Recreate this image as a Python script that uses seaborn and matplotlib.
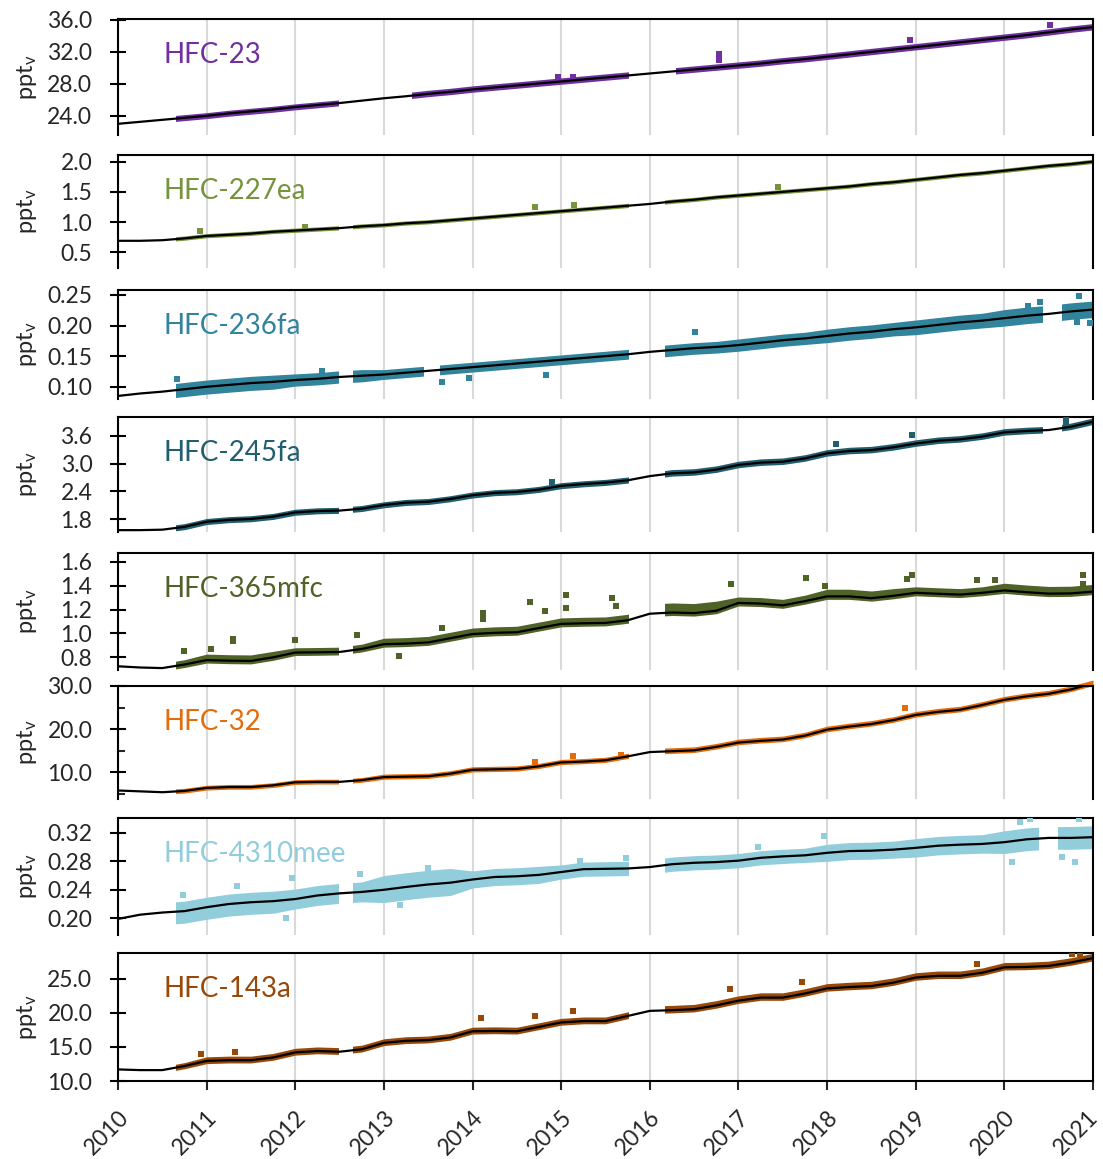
import numpy as np
import matplotlib
matplotlib.use("Agg")
import matplotlib.pyplot as plt
import matplotlib.transforms as mtransforms
import seaborn as sns
from matplotlib.patches import Rectangle

sns.set_style("white")
plt.rcParams['font.family'] = ['Lato', 'DejaVu Sans']
plt.rcParams['mathtext.fontset'] = 'custom'
plt.rcParams['mathtext.rm'] = 'Lato'
plt.rcParams['mathtext.it'] = 'Lato:italic'

# ---------------- data ----------------
years = list(range(2010, 2022))
t_q = np.arange(2010.0, 2021.001, 0.25)      # quarterly time grid of the fitted curves

names = ["HFC-23", "HFC-227ea", "HFC-236fa", "HFC-245fa",
         "HFC-365mfc", "HFC-32", "HFC-4310mee", "HFC-143a"]
colors = ["#7030A0", "#77933C", "#31849B", "#215E6E",
          "#4F6228", "#E46C0A", "#92CDDC", "#984807"]

# fitted (black) curves, quarterly 2010.00 ... 2021.00
hfc23_fit = [23.0, 23.25, 23.5, 23.75, 24.0, 24.3, 24.55, 24.8, 25.1, 25.35, 25.6, 25.9,
             26.2, 26.45, 26.75, 27.0, 27.3, 27.55, 27.8, 28.05, 28.3, 28.55, 28.8, 29.05,
             29.3, 29.55, 29.8, 30.05, 30.3, 30.55, 30.85, 31.1, 31.4, 31.7, 32.0, 32.3,
             32.6, 32.9, 33.2, 33.5, 33.8, 34.1, 34.45, 34.8, 35.1]
hfc227ea_fit = [0.69, 0.69, 0.70, 0.73, 0.77, 0.79, 0.81, 0.84, 0.86, 0.88, 0.90, 0.93,
                0.95, 0.98, 1.00, 1.03, 1.06, 1.09, 1.12, 1.15, 1.18, 1.21, 1.24, 1.27,
                1.30, 1.34, 1.37, 1.41, 1.44, 1.47, 1.50, 1.53, 1.56, 1.59, 1.63, 1.66,
                1.70, 1.74, 1.78, 1.81, 1.85, 1.89, 1.93, 1.96, 2.00]
hfc236fa_fit = [0.085, 0.089, 0.092, 0.096, 0.100, 0.103, 0.106, 0.108, 0.111, 0.113, 0.116, 0.118,
                0.120, 0.123, 0.126, 0.129, 0.132, 0.135, 0.138, 0.141, 0.144, 0.147, 0.150, 0.153,
                0.157, 0.160, 0.163, 0.165, 0.168, 0.172, 0.176, 0.179, 0.183, 0.187, 0.190, 0.194,
                0.197, 0.201, 0.205, 0.208, 0.212, 0.216, 0.219, 0.223, 0.226]
hfc245fa_fit = [1.57, 1.57, 1.58, 1.64, 1.75, 1.79, 1.81, 1.86, 1.95, 1.98, 1.99, 2.03,
                2.11, 2.16, 2.18, 2.24, 2.32, 2.37, 2.39, 2.44, 2.52, 2.56, 2.59, 2.64,
                2.73, 2.79, 2.81, 2.87, 2.97, 3.02, 3.04, 3.11, 3.22, 3.27, 3.29, 3.35,
                3.43, 3.49, 3.52, 3.58, 3.67, 3.70, 3.72, 3.79, 3.90]
hfc365mfc_fit = [0.725, 0.715, 0.710, 0.74, 0.777, 0.772, 0.770, 0.80, 0.84, 0.842, 0.845, 0.87,
                 0.91, 0.915, 0.925, 0.96, 0.995, 1.005, 1.01, 1.045, 1.08, 1.085, 1.088, 1.11,
                 1.165, 1.175, 1.17, 1.19, 1.255, 1.25, 1.235, 1.27, 1.31, 1.31, 1.295, 1.315,
                 1.34, 1.332, 1.325, 1.34, 1.36, 1.345, 1.333, 1.335, 1.35]
hfc32_fit = [5.8, 5.6, 5.4, 5.7, 6.4, 6.6, 6.6, 7.0, 7.7, 7.8, 7.8, 8.2,
             8.9, 9.0, 9.1, 9.7, 10.6, 10.7, 10.8, 11.4, 12.3, 12.5, 12.8, 13.7,
             14.7, 14.9, 15.1, 15.9, 16.9, 17.3, 17.6, 18.5, 19.9, 20.6, 21.2, 22.1,
             23.3, 24.0, 24.5, 25.6, 26.8, 27.6, 28.2, 29.2, 30.6]
hfc4310mee_fit = [0.199, 0.205, 0.208, 0.210, 0.2155, 0.220, 0.2225, 0.2240, 0.227, 0.232, 0.235, 0.237,
                  0.240, 0.2440, 0.2475, 0.250, 0.2545, 0.258, 0.259, 0.261, 0.265, 0.2690, 0.2695, 0.2700,
                  0.272, 0.2760, 0.278, 0.279, 0.281, 0.285, 0.2870, 0.2885, 0.292, 0.2945, 0.2950, 0.2965,
                  0.2990, 0.3020, 0.3035, 0.3045, 0.307, 0.311, 0.313, 0.313, 0.314]
hfc143a_fit = [11.7, 11.6, 11.6, 12.2, 12.95, 13.05, 13.05, 13.45, 14.2, 14.4, 14.3, 14.66,
               15.6, 15.9, 16.0, 16.4, 17.3, 17.35, 17.3, 17.95, 18.6, 18.8, 18.8, 19.55,
               20.3, 20.4, 20.55, 21.1, 21.8, 22.25, 22.25, 22.85, 23.6, 23.8, 23.95, 24.45,
               25.2, 25.45, 25.45, 25.9, 26.7, 26.75, 26.9, 27.4, 28.05]

# spread of the observations below / above the fit, per year 2010..2020
hfc23_dev_lo = [0.35, 0.35, 0.35, 0.35, 0.35, 0.35, 0.35, 0.35, 0.35, 0.35, 0.35]
hfc23_dev_hi = [0.40, 0.40, 0.40, 0.45, 0.45, 0.45, 0.45, 0.45, 0.45, 0.45, 0.45]
hfc227ea_dev_lo = [0.030, 0.030, 0.030, 0.030, 0.030, 0.030, 0.030, 0.030, 0.030, 0.030, 0.030]
hfc227ea_dev_hi = [0.040, 0.040, 0.040, 0.040, 0.040, 0.040, 0.040, 0.040, 0.040, 0.040, 0.040]
hfc236fa_dev_lo = [0.012, 0.012, 0.010, 0.008, 0.008, 0.008, 0.010, 0.010, 0.011, 0.012, 0.013]
hfc236fa_dev_hi = [0.011, 0.011, 0.010, 0.008, 0.008, 0.008, 0.009, 0.010, 0.011, 0.012, 0.014]
hfc245fa_dev_lo = [0.06, 0.06, 0.06, 0.06, 0.06, 0.06, 0.06, 0.06, 0.06, 0.06, 0.06]
hfc245fa_dev_hi = [0.07, 0.07, 0.07, 0.07, 0.07, 0.07, 0.08, 0.08, 0.08, 0.08, 0.08]
hfc365mfc_dev_lo = [0.025, 0.025, 0.025, 0.025, 0.025, 0.025, 0.025, 0.025, 0.025, 0.025, 0.025]
hfc365mfc_dev_hi = [0.04, 0.05, 0.04, 0.05, 0.05, 0.05, 0.08, 0.05, 0.06, 0.05, 0.06]
hfc32_dev_lo = [0.5, 0.5, 0.5, 0.5, 0.5, 0.5, 0.5, 0.5, 0.5, 0.5, 0.5]
hfc32_dev_hi = [0.6, 0.6, 0.6, 0.7, 0.7, 0.7, 0.8, 0.8, 0.8, 0.8, 0.8]
hfc4310mee_dev_lo = [0.017, 0.017, 0.014, 0.018, 0.012, 0.010, 0.010, 0.010, 0.012, 0.013, 0.016]
hfc4310mee_dev_hi = [0.014, 0.014, 0.014, 0.020, 0.012, 0.010, 0.010, 0.010, 0.012, 0.013, 0.016]
hfc143a_dev_lo = [0.4, 0.4, 0.4, 0.4, 0.4, 0.4, 0.4, 0.4, 0.4, 0.4, 0.4]
hfc143a_dev_hi = [0.5, 0.6, 0.6, 0.6, 0.6, 0.6, 0.7, 0.7, 0.7, 0.7, 0.7]

# periods with observations
hfc23_obs = [(2010.65, 2012.48), (2013.32, 2015.75), (2016.30, 2021.0)]
hfc227ea_obs = [(2010.65, 2012.48), (2012.65, 2015.75), (2016.17, 2021.0)]
hfc236fa_obs = [(2010.65, 2012.48), (2012.65, 2013.44), (2013.63, 2015.75),
                (2016.17, 2020.42), (2020.65, 2021.0)]
hfc245fa_obs = [(2010.65, 2012.48), (2012.65, 2015.75), (2016.17, 2020.43), (2020.65, 2021.0)]
hfc365mfc_obs = [(2010.65, 2012.48), (2012.65, 2015.75), (2016.17, 2021.0)]
hfc32_obs = [(2010.65, 2012.48), (2012.65, 2015.75), (2016.17, 2021.0)]
hfc4310mee_obs = [(2010.65, 2012.48), (2012.65, 2015.75), (2016.17, 2020.38), (2020.60, 2021.0)]
hfc143a_obs = [(2010.65, 2012.48), (2012.65, 2015.75), (2016.17, 2021.0)]

# individual off-band observations
hfc23_out_t = [2016.78, 2016.78, 2018.93, 2020.52, 2014.96, 2015.13]
hfc23_out_v = [31.7, 31.0, 33.5, 35.4, 28.9, 28.8]
hfc227ea_out_t = [2014.70, 2015.14, 2017.45, 2010.93, 2012.11]
hfc227ea_out_v = [1.245, 1.28, 1.575, 0.85, 0.925]
hfc236fa_out_t = [2013.65, 2013.96, 2014.83, 2016.51, 2020.84, 2020.40, 2020.27,
                  2020.97, 2020.82, 2010.66, 2012.30]
hfc236fa_out_v = [0.108, 0.1137, 0.119, 0.189, 0.248, 0.239, 0.232,
                  0.2045, 0.206, 0.1126, 0.126]
hfc245fa_out_t = [2018.10, 2018.96, 2020.69, 2020.69, 2020.70, 2014.90]
hfc245fa_out_v = [3.43, 3.61, 3.97, 3.88, 3.80, 2.60]
hfc365mfc_out_t = [2011.05, 2011.30, 2011.30, 2012.00, 2012.70, 2010.75, 2013.66, 2013.17,
                   2014.12, 2014.12, 2014.65, 2014.82, 2015.05, 2015.05, 2015.57, 2015.62,
                   2016.92, 2017.76, 2017.98, 2018.96, 2018.90, 2019.69, 2019.89,
                   2020.89, 2020.89]
hfc365mfc_out_v = [0.87, 0.94, 0.955, 0.945, 0.985, 0.855, 1.045, 0.81,
                   1.175, 1.12, 1.26, 1.19, 1.32, 1.21, 1.30, 1.23,
                   1.41, 1.46, 1.40, 1.49, 1.455, 1.447, 1.447,
                   1.49, 1.41]
hfc32_out_t = [2014.71, 2015.13, 2015.68, 2018.88]
hfc32_out_v = [12.5, 13.7, 14.1, 24.8]
hfc4310mee_out_t = [2010.73, 2011.34, 2011.90, 2011.96, 2012.73, 2013.50, 2013.18,
                    2015.21, 2015.73, 2017.96, 2017.22, 2020.29, 2020.18, 2020.84,
                    2020.80, 2020.65, 2020.09]
hfc4310mee_out_v = [0.233, 0.245, 0.201, 0.256, 0.2625, 0.271, 0.218,
                    0.281, 0.2845, 0.315, 0.300, 0.340, 0.335, 0.339,
                    0.279, 0.286, 0.279]
hfc143a_out_t = [2010.94, 2011.32, 2014.10, 2014.71, 2015.13, 2016.90, 2017.72,
                 2019.69, 2020.76, 2020.85]
hfc143a_out_v = [14.0, 14.3, 19.3, 19.55, 20.3, 23.5, 24.5,
                 27.2, 28.7, 28.6]

fits = [hfc23_fit, hfc227ea_fit, hfc236fa_fit, hfc245fa_fit,
        hfc365mfc_fit, hfc32_fit, hfc4310mee_fit, hfc143a_fit]
devs_lo = [hfc23_dev_lo, hfc227ea_dev_lo, hfc236fa_dev_lo, hfc245fa_dev_lo,
           hfc365mfc_dev_lo, hfc32_dev_lo, hfc4310mee_dev_lo, hfc143a_dev_lo]
devs_hi = [hfc23_dev_hi, hfc227ea_dev_hi, hfc236fa_dev_hi, hfc245fa_dev_hi,
           hfc365mfc_dev_hi, hfc32_dev_hi, hfc4310mee_dev_hi, hfc143a_dev_hi]
obs = [hfc23_obs, hfc227ea_obs, hfc236fa_obs, hfc245fa_obs,
       hfc365mfc_obs, hfc32_obs, hfc4310mee_obs, hfc143a_obs]
outs = [(hfc23_out_t, hfc23_out_v), (hfc227ea_out_t, hfc227ea_out_v),
        (hfc236fa_out_t, hfc236fa_out_v), (hfc245fa_out_t, hfc245fa_out_v),
        (hfc365mfc_out_t, hfc365mfc_out_v), (hfc32_out_t, hfc32_out_v),
        (hfc4310mee_out_t, hfc4310mee_out_v), (hfc143a_out_t, hfc143a_out_v)]

yticks = [[24, 28, 32, 36], [0.5, 1.0, 1.5, 2.0], [0.10, 0.15, 0.20, 0.25],
          [1.8, 2.4, 3.0, 3.6], [0.8, 1.0, 1.2, 1.4, 1.6], [10, 20, 30],
          [0.20, 0.24, 0.28, 0.32], [10, 15, 20, 25]]
yfmt = ['%.1f', '%.1f', '%.2f', '%.1f', '%.1f', '%.1f', '%.2f', '%.1f']

# ---------------- layout ----------------
W, H = 1103, 1159
panel_px = [(19, 135), (155, 268), (290, 399), (417, 532),
            (553, 670), (686, 799), (818, 935), (953, 1081)]
ylims = [(21.6, 36.12), (0.24, 2.11), (0.080, 0.258), (1.53, 4.0),
         (0.694, 1.673), (3.83, 30.0), (0.1764, 0.341), (10.0, 28.8)]
x0, x1 = 118, 1093
TICK_FS = 16.5
TXT = '#262626'

fig = plt.figure(figsize=(W / 100, H / 100), dpi=100)

for i in range(8):
    top, bot = panel_px[i]
    ax = fig.add_axes([x0 / W, 1 - bot / H, (x1 - x0) / W, (bot - top) / H])
    ax.set_facecolor('white')
    ylo, yhi = ylims[i]
    fit = np.array(fits[i])
    dlo = np.append(np.repeat(devs_lo[i], 4), devs_lo[i][-1])
    dhi = np.append(np.repeat(devs_hi[i], 4), devs_hi[i][-1])
    band_lo = fit - dlo
    band_hi = fit + dhi
    for s, e in obs[i]:
        poly = ax.fill_between(t_q, band_lo, band_hi, color=colors[i], lw=0, zorder=2)
        poly.set_clip_path(Rectangle((s, ylo - 10), e - s, (yhi - ylo) + 20,
                                     transform=ax.transData))
    ot, ov = outs[i]
    sns.scatterplot(x=ot, y=ov, ax=ax, marker='s', s=16, color=colors[i],
                    linewidth=0, zorder=3, legend=False)
    sns.lineplot(x=t_q, y=fit, ax=ax, color='black', lw=1.6, zorder=4, legend=False)

    ax.set_xlim(2010, 2021)
    ax.set_ylim(ylo, yhi)
    ax.set_xticks(years)
    ax.grid(axis='x', color='#d9d9d9', lw=1.5, zorder=0)
    ax.grid(axis='y', visible=False)
    ax.set_axisbelow(True)
    for side in ['left', 'top', 'right', 'bottom']:
        ax.spines[side].set_color('black')
        ax.spines[side].set_linewidth(1.5)
    ax.set_yticks(yticks[i])
    ax.set_yticklabels([yfmt[i] % v for v in yticks[i]], fontsize=TICK_FS, color=TXT)
    ax.tick_params(axis='y', which='major', direction='inout', length=11, width=1.5,
                   labelsize=TICK_FS, pad=13, colors='black', labelcolor=TXT, left=True)
    if i == 5:
        ax.set_yticks([5, 15, 25], minor=True)
        ax.tick_params(axis='y', which='minor', direction='in', length=5, width=1.5, left=True)
    ax.set_xlabel('')
    ax.set_ylabel('')
    if i < 7:
        ax.spines['bottom'].set_visible(False)
        ax.tick_params(axis='x', length=0, labelbottom=False)
    else:
        ax.tick_params(axis='x', direction='out', length=6.5, width=1.5, labelsize=TICK_FS,
                       pad=12, bottom=True, labelcolor=TXT)
        ax.set_xticklabels([str(y) for y in years], fontsize=TICK_FS, color=TXT,
                           rotation=45, ha='right', va='top', rotation_mode='anchor')
        # keep the last year label inside the canvas
        last = ax.get_xticklabels()[-1]
        last.set_transform(last.get_transform() +
                           mtransforms.ScaledTranslation(-6 / 100, 0, fig.dpi_scale_trans))
    ax.annotate(names[i], xy=(0, 1), xycoords='axes fraction', xytext=(45, -36),
                textcoords='offset pixels', ha='left', va='center', fontsize=20,
                color=colors[i])
    ax.text((27 - x0) / (x1 - x0), 0.5, r'ppt$_\mathrm{v}$', transform=ax.transAxes,
            rotation=90, ha='center', va='center', fontsize=17, color=TXT)

fig.savefig('out.png', dpi=100, facecolor='white')
